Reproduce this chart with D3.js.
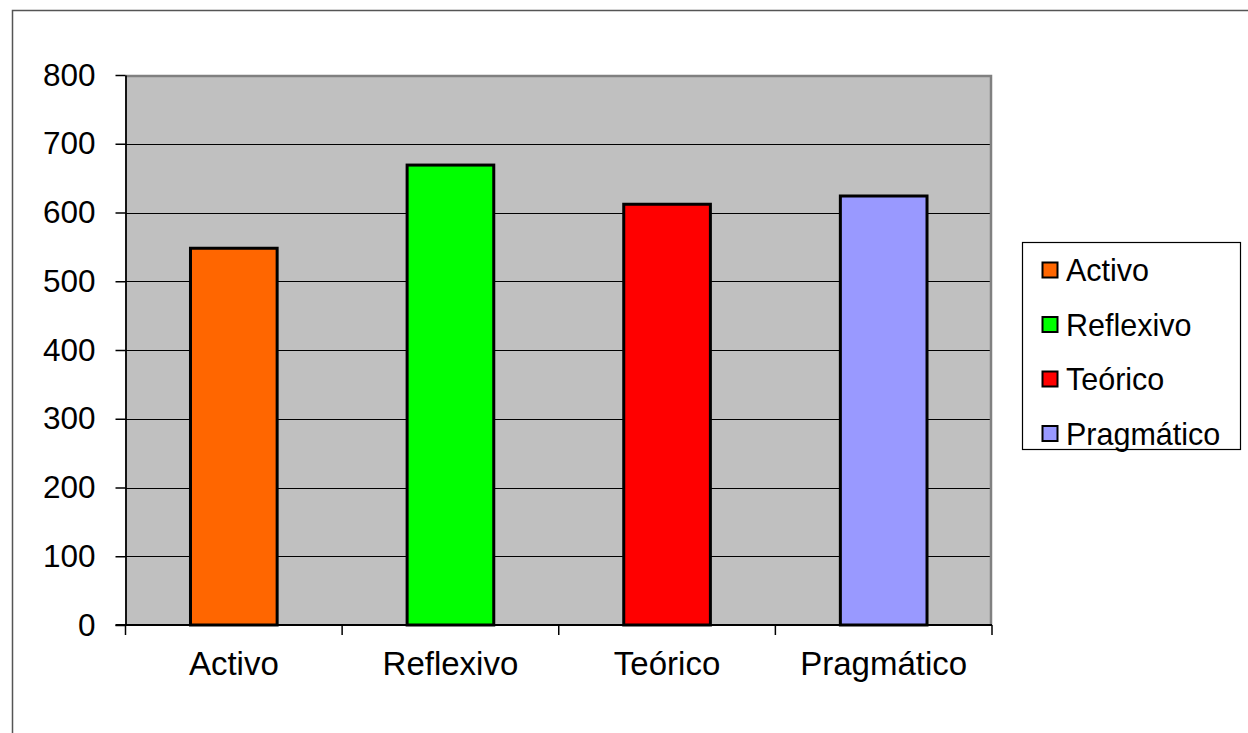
<!DOCTYPE html>
<html>
<head>
<meta charset="utf-8">
<script src="https://cdn.jsdelivr.net/npm/d3@7"></script>
<style>
  html, body { margin: 0; padding: 0; background: #fff; }
  svg { display: block; font-family: "Liberation Sans", Arial, sans-serif; }
</style>
</head>
<body>
<svg id="chart" width="1248" height="733"></svg>
<script>
// Learning-style scores
const categories = ["Activo", "Reflexivo", "Teórico", "Pragmático"];
const values = [548, 669, 612, 624];
const colors = ["#ff6600", "#00ff00", "#ff0000", "#9999ff"];
const yTicks = [0, 100, 200, 300, 400, 500, 600, 700, 800];

const svg = d3.select("#chart");

// Outer chart frame (runs off the right and bottom edges)
svg.append("path")
  .attr("d", "M12.5,740 L12.5,10.5 L1260,10.5")
  .attr("fill", "none").attr("stroke", "#555").attr("stroke-width", 1.5);

const plot = { left: 125.5, right: 992, top: 75, bottom: 625 };

const x = d3.scaleBand().domain(categories).range([plot.left, plot.right]);
const y = d3.scaleLinear().domain([0, 800]).range([plot.bottom, plot.top]);

// Plot background
svg.append("rect")
  .attr("x", plot.left).attr("y", plot.top)
  .attr("width", plot.right - plot.left).attr("height", plot.bottom - plot.top)
  .attr("fill", "#c0c0c0");

// Gridlines
svg.append("g").selectAll("line").data(yTicks.slice(1, -1)).join("line")
  .attr("x1", plot.left).attr("x2", plot.right)
  .attr("y1", d => Math.round(y(d)) + 0.5).attr("y2", d => Math.round(y(d)) + 0.5)
  .attr("stroke", "#000").attr("stroke-width", 1.2);

// Top and right plot border
svg.append("path")
  .attr("d", `M${plot.left},${plot.top + 1} L${plot.right - 1},${plot.top + 1} L${plot.right - 1},${plot.bottom}`)
  .attr("fill", "none").attr("stroke", "#808080").attr("stroke-width", 2.5);

// Bars
const barW = x.bandwidth() * 0.4;
svg.append("g").selectAll("rect").data(categories).join("rect")
  .attr("x", d => x(d) + (x.bandwidth() - barW) / 2)
  .attr("y", (d, i) => y(values[i]))
  .attr("width", barW)
  .attr("height", (d, i) => y(0) - y(values[i]))
  .attr("fill", (d, i) => colors[i])
  .attr("stroke", "#000").attr("stroke-width", 3);

// Y axis
const yAxis = svg.append("g")
  .attr("transform", `translate(${plot.left},0)`)
  .call(d3.axisLeft(y).tickValues(yTicks).tickSize(10).tickPadding(20).tickSizeOuter(0));
yAxis.select(".domain").attr("stroke", "#000").attr("stroke-width", 1.8);
yAxis.selectAll(".tick line").attr("stroke", "#000").attr("stroke-width", 1.5);
yAxis.selectAll("text")
  .attr("font-size", 31.5).attr("fill", "#000")
  .attr("font-family", "Liberation Sans, Arial, sans-serif");

// X axis: category ticks sit on band boundaries
const xAxis = svg.append("g")
  .attr("transform", `translate(0,${plot.bottom})`);
xAxis.append("line")
  .attr("x1", plot.left - 10).attr("x2", plot.right)
  .attr("y1", 0).attr("y2", 0)
  .attr("stroke", "#000").attr("stroke-width", 1.8);
const bounds = categories.map(c => x(c)).concat([plot.right]);
xAxis.selectAll(".xt").data(bounds).join("line")
  .attr("class", "xt")
  .attr("x1", d => d).attr("x2", d => d)
  .attr("y1", 0).attr("y2", 10)
  .attr("stroke", "#000").attr("stroke-width", 1.5);
xAxis.selectAll("text").data(categories).join("text")
  .attr("x", d => x(d) + x.bandwidth() / 2)
  .attr("y", 50)
  .attr("text-anchor", "middle")
  .attr("font-size", 33)
  .attr("fill", "#000")
  .text(d => d);

// Legend
const legend = svg.append("g");
legend.append("rect")
  .attr("x", 1022.5).attr("y", 242.5).attr("width", 218).attr("height", 207)
  .attr("fill", "#fff").attr("stroke", "#000").attr("stroke-width", 1.2);
const rows = legend.selectAll(".row").data(categories).join("g")
  .attr("class", "row")
  .attr("transform", (d, i) => `translate(1042,${270 + i * 54.5})`);
rows.append("rect")
  .attr("x", 0.5).attr("y", -7.5).attr("width", 15).attr("height", 15)
  .attr("fill", (d, i) => colors[i])
  .attr("stroke", "#000").attr("stroke-width", 2);
rows.append("text")
  .attr("x", 24).attr("y", 11)
  .attr("font-size", 30.5).attr("fill", "#000")
  .text(d => d);
</script>
</body>
</html>
